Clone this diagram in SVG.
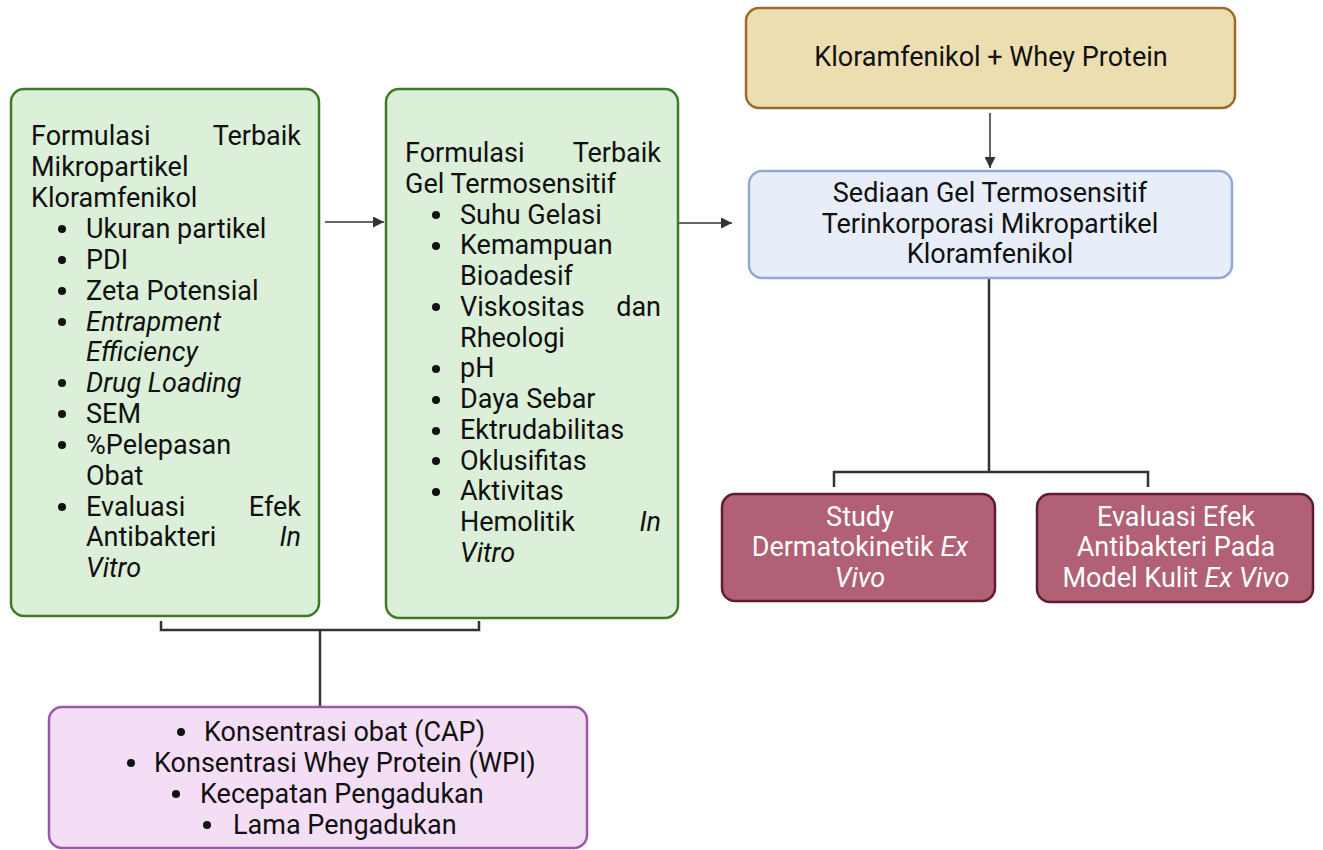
<svg xmlns="http://www.w3.org/2000/svg" width="1323" height="850" viewBox="0 0 1323 850">
<defs>
<style>
text{font-family:Roboto,"Liberation Sans",sans-serif;font-size:27px;fill:#111}
.it{font-style:italic}
.w{fill:#fff}
.g{fill:#dcefd8;stroke:#3f7a25;stroke-width:2.5}
.y{fill:#ecdeb0;stroke:#9c6b2c;stroke-width:2.5}
.b{fill:#e8eef9;stroke:#90a9d7;stroke-width:2.5}
.r{fill:#b26075;stroke:#5b1f2e;stroke-width:2.5}
.p{fill:#f3def6;stroke:#9b58aa;stroke-width:2.5}
.bu{fill:#111}
.ln{fill:none;stroke:#333;stroke-width:1.5}
.br{fill:none;stroke:#333;stroke-width:2.5}
</style>
<marker id="ah" viewBox="0 0 10 10" refX="10" refY="5" markerWidth="12" markerHeight="11" markerUnits="userSpaceOnUse" orient="auto">
<path d="M0,0 L10,5 L0,10 z" fill="#333"/>
</marker>
</defs>
<rect width="1323" height="850" fill="#fff"/>

<g id="connectors">
<line class="ln" x1="325" y1="222" x2="384" y2="222" marker-end="url(#ah)"/>
<line class="ln" x1="678" y1="223" x2="732" y2="223" marker-end="url(#ah)"/>
<line class="ln" x1="990" y1="113" x2="990" y2="168" marker-end="url(#ah)"/>
<path class="br" d="M989,279 V472 M834,487 V472 H1148 V487"/>
<path class="br" d="M161,621 V630 H479 V621 M320,630 V707"/>
</g>

<g id="box1">
<rect class="g" x="11" y="89" width="308" height="527" rx="13"/>
<text x="31" y="145">Formulasi</text><text x="301" y="145" text-anchor="end">Terbaik</text>
<text x="31" y="176">Mikropartikel</text>
<text x="31" y="207">Kloramfenikol</text>
<circle class="bu" cx="62" cy="229" r="4"/><text x="86" y="238">Ukuran partikel</text>
<circle class="bu" cx="62" cy="260" r="4"/><text x="86" y="269">PDI</text>
<circle class="bu" cx="62" cy="291" r="4"/><text x="86" y="300">Zeta Potensial</text>
<circle class="bu" cx="62" cy="322" r="4"/><text class="it" x="86" y="331">Entrapment</text>
<text class="it" x="86" y="361">Efficiency</text>
<circle class="bu" cx="62" cy="383" r="4"/><text class="it" x="86" y="392">Drug Loading</text>
<circle class="bu" cx="62" cy="414" r="4"/><text x="86" y="423">SEM</text>
<circle class="bu" cx="62" cy="445" r="4"/><text x="86" y="454">%Pelepasan</text>
<text x="86" y="485">Obat</text>
<circle class="bu" cx="62" cy="507" r="4"/><text x="86" y="516">Evaluasi</text><text x="301" y="516" text-anchor="end">Efek</text>
<text x="86" y="546">Antibakteri</text><text class="it" x="301" y="546" text-anchor="end">In</text>
<text class="it" x="86" y="577">Vitro</text>
</g>

<g id="box2">
<rect class="g" x="386" y="89" width="292" height="529" rx="13"/>
<text x="405" y="162">Formulasi</text><text x="661" y="162" text-anchor="end">Terbaik</text>
<text x="405" y="193">Gel Termosensitif</text>
<circle class="bu" cx="436" cy="215" r="4"/><text x="460" y="224">Suhu Gelasi</text>
<circle class="bu" cx="436" cy="246" r="4"/><text x="460" y="254">Kemampuan</text>
<text x="460" y="285">Bioadesif</text>
<circle class="bu" cx="436" cy="307" r="4"/><text x="460" y="316">Viskositas</text><text x="661" y="316" text-anchor="end">dan</text>
<text x="460" y="347">Rheologi</text>
<circle class="bu" cx="436" cy="369" r="4"/><text x="460" y="377">pH</text>
<circle class="bu" cx="436" cy="400" r="4"/><text x="460" y="408">Daya Sebar</text>
<circle class="bu" cx="436" cy="431" r="4"/><text x="460" y="439">Ektrudabilitas</text>
<circle class="bu" cx="436" cy="461" r="4"/><text x="460" y="470">Oklusifitas</text>
<circle class="bu" cx="436" cy="492" r="4"/><text x="460" y="500">Aktivitas</text>
<text x="460" y="531">Hemolitik</text><text class="it" x="661" y="531" text-anchor="end">In</text>
<text class="it" x="460" y="562">Vitro</text>
</g>

<g id="top">
<rect class="y" x="746" y="8" width="489" height="100" rx="13"/>
<text x="991" y="66" text-anchor="middle">Kloramfenikol + Whey Protein</text>
</g>

<g id="gel">
<rect class="b" x="749" y="171" width="483" height="107" rx="13"/>
<text x="990" y="202" text-anchor="middle">Sediaan Gel Termosensitif</text>
<text x="990" y="233" text-anchor="middle">Terinkorporasi Mikropartikel</text>
<text x="990" y="263" text-anchor="middle">Kloramfenikol</text>
</g>

<g id="dermato">
<rect class="r" x="722" y="494" width="273" height="107" rx="13"/>
<text class="w" x="860" y="526" text-anchor="middle">Study</text>
<text class="w" x="860" y="556" text-anchor="middle">Dermatokinetik <tspan class="it">Ex</tspan></text>
<text class="w it" x="860" y="587" text-anchor="middle">Vivo</text>
</g>

<g id="antibakteri">
<rect class="r" x="1037" y="494" width="276" height="108" rx="13"/>
<text class="w" x="1176" y="526" text-anchor="middle">Evaluasi Efek</text>
<text class="w" x="1176" y="556" text-anchor="middle">Antibakteri Pada</text>
<text class="w" x="1176" y="587" text-anchor="middle">Model Kulit <tspan class="it">Ex Vivo</tspan></text>
</g>

<g id="variabel">
<rect class="p" x="49" y="707" width="538" height="141" rx="13"/>
<circle class="bu" cx="181" cy="732" r="4"/><text x="204" y="741">Konsentrasi obat (CAP)</text>
<circle class="bu" cx="131" cy="763" r="4"/><text x="154" y="772">Konsentrasi Whey Protein (WPI)</text>
<circle class="bu" cx="176" cy="794" r="4"/><text x="200" y="803">Kecepatan Pengadukan</text>
<circle class="bu" cx="207" cy="825" r="4"/><text x="233" y="834">Lama Pengadukan</text>
</g>
</svg>
